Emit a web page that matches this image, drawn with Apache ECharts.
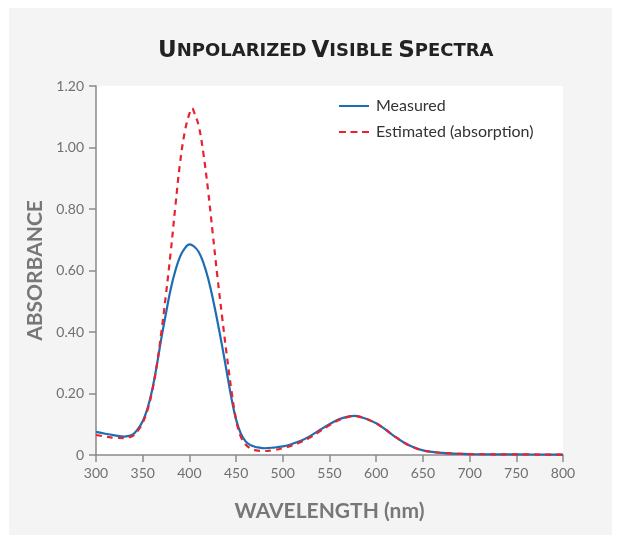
<!DOCTYPE html>
<html>
<head>
<meta charset="utf-8">
<script src="https://cdn.jsdelivr.net/npm/echarts@6/dist/echarts.min.js"></script>
<style>
  html, body { margin: 0; padding: 0; background: #fff; }
  #chart { position: absolute; left: 9px; top: 8px; width: 603px; height: 527px; background: #f4f4f4; }
</style>
</head>
<body>
<div id="chart"></div>
<script>
// wavelength (nm) / absorbance
const measuredNm = [300, 310, 320, 330, 335, 340, 345, 350, 355, 360, 365, 370, 375, 380, 385, 390, 395, 400, 405, 410, 415, 420, 425, 430, 435, 440, 445, 450, 455, 460, 465, 470, 475, 480, 490, 500, 510, 520, 530, 540, 550, 560, 570, 577, 585, 590, 600, 610, 620, 630, 640, 650, 660, 670, 680, 700, 750, 800]
const measuredAbs = [0.075, 0.069, 0.064, 0.060, 0.062, 0.068, 0.085, 0.11, 0.15, 0.21, 0.29, 0.38, 0.462, 0.54, 0.60, 0.645, 0.672, 0.685, 0.678, 0.66, 0.625, 0.575, 0.51, 0.435, 0.355, 0.27, 0.185, 0.115, 0.07, 0.045, 0.033, 0.027, 0.024, 0.022, 0.024, 0.028, 0.036, 0.047, 0.063, 0.082, 0.100, 0.116, 0.125, 0.127, 0.122, 0.117, 0.103, 0.083, 0.060, 0.040, 0.025, 0.015, 0.010, 0.007, 0.005, 0.003, 0.002, 0.001]

const estimatedNm = [300, 310, 320, 330, 335, 340, 345, 350, 355, 360, 365, 370, 375, 380, 385, 390, 395, 400, 403, 405, 410, 415, 420, 425, 430, 435, 440, 445, 450, 455, 460, 465, 470, 480, 490, 500, 510, 520, 530, 540, 550, 560, 570, 577, 585, 590, 600, 610, 620, 630, 640, 650, 660, 670, 680, 700, 750, 800]
const estimatedAbs = [0.065, 0.060, 0.056, 0.055, 0.057, 0.063, 0.080, 0.105, 0.145, 0.205, 0.29, 0.40, 0.525, 0.66, 0.81, 0.95, 1.05, 1.11, 1.128, 1.115, 1.07, 0.98, 0.86, 0.72, 0.58, 0.45, 0.325, 0.21, 0.115, 0.06, 0.035, 0.022, 0.016, 0.013, 0.016, 0.022, 0.031, 0.043, 0.058, 0.078, 0.097, 0.114, 0.124, 0.127, 0.122, 0.117, 0.103, 0.083, 0.060, 0.040, 0.025, 0.015, 0.010, 0.007, 0.005, 0.003, 0.002, 0.001]

const pairs = (xs, ys) => xs.map((x, i) => [x, ys[i]])

const chart = echarts.init(document.getElementById('chart'))
chart.setOption({
  animation: false,
  title: {
    text: '{a|U}{b|NPOLARIZED} {a|V}{b|ISIBLE} {a|S}{b|PECTRA}',
    left: 144,
    top: 27,
    textStyle: {
      rich: {
        a: { fontFamily: 'DejaVu Sans', fontWeight: 'bold', fontSize: 23, color: '#222' },
        b: { fontFamily: 'DejaVu Sans', fontWeight: 'bold', fontSize: 18, color: '#222' }
      }
    }
  },
  legend: {
    orient: 'vertical',
    left: 325,
    top: 85,
    itemWidth: 30,
    itemHeight: 2,
    itemGap: 10,
    textStyle: { fontFamily: 'Lato', fontSize: 16, color: '#333', padding: [0, 0, 0, 2] },
    data: [
      { name: 'Measured', icon: 'path://M0,0h30v2h-30z', itemStyle: { color: '#1b6db4' } },
      { name: 'Estimated (absorption)', icon: 'path://M0,0h7v2h-7z M11.5,0h7v2h-7z M23,0h7v2h-7z', itemStyle: { color: '#e8232f' } }
    ]
  },
  grid: {
    left: 87,
    top: 78,
    width: 467,
    height: 369,
    show: true,
    backgroundColor: '#fff',
    borderWidth: 0
  },
  xAxis: {
    type: 'value',
    min: 300,
    max: 800,
    interval: 50,
    name: 'WAVELENGTH (nm)',
    nameLocation: 'middle',
    nameGap: 46,
    nameTextStyle: { fontFamily: 'Lato', fontWeight: 'bold', fontSize: 21, color: '#777' },
    axisLine: { lineStyle: { color: '#8a8a8a', width: 1.5 } },
    axisTick: { length: 7, lineStyle: { color: '#8a8a8a', width: 1.5 } },
    axisLabel: { fontFamily: 'Lato', fontSize: 14, color: '#707070', margin: 11 },
    splitLine: { show: false }
  },
  yAxis: {
    type: 'value',
    min: 0,
    max: 1.2,
    interval: 0.2,
    name: 'ABSORBANCE',
    nameLocation: 'middle',
    nameGap: 50,
    nameTextStyle: { fontFamily: 'Lato', fontWeight: 'bold', fontSize: 21, color: '#777' },
    axisLine: { show: true, lineStyle: { color: '#8a8a8a', width: 1.5 } },
    axisTick: { show: true, length: 7, lineStyle: { color: '#8a8a8a', width: 1.5 } },
    axisLabel: {
      fontFamily: 'Lato', fontSize: 14, color: '#707070', margin: 12,
      formatter: v => v === 0 ? '0' : v.toFixed(2)
    },
    splitLine: { show: false }
  },
  series: [{
    name: 'Measured',
    type: 'line',
    smooth: 0.4,
    symbol: 'none',
    data: pairs(measuredNm, measuredAbs),
    lineStyle: { color: '#1b6db4', width: 2.2 },
    itemStyle: { color: '#1b6db4' },
    z: 2
  }, {
    name: 'Estimated (absorption)',
    type: 'line',
    smooth: 0.4,
    symbol: 'none',
    data: pairs(estimatedNm, estimatedAbs),
    lineStyle: { color: '#e8232f', width: 2.2, type: [6, 5] },
    itemStyle: { color: '#e8232f' },
    z: 3
  }]
})
</script>
</body>
</html>
